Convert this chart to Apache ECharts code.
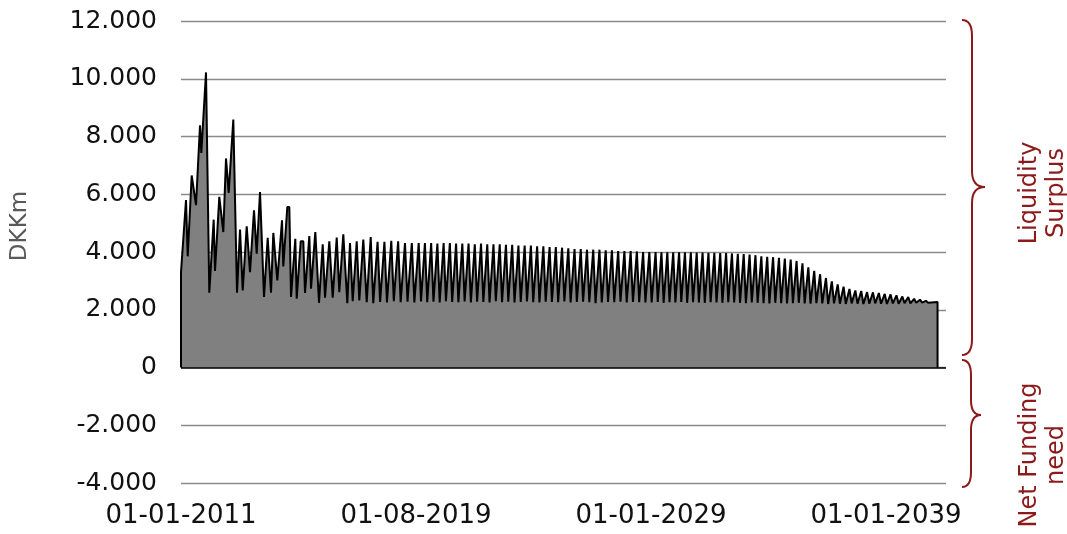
<!DOCTYPE html>
<html>
<head>
<meta charset="utf-8">
<script src="https://cdn.jsdelivr.net/npm/echarts@6/dist/echarts.min.js"></script>
<style>
  html, body { margin: 0; padding: 0; background: #fff; }
  #chart { width: 1067px; height: 534px; }
</style>
</head>
<body>
<div id="chart"></div>
<script>
// X-axis tick labels (one per label interval of 100 axis units)
const tickLabels = ['01-01-2011', '01-08-2019', '01-01-2029', '01-01-2039'];
const yTicks = [-4000, -2000, 0, 2000, 4000, 6000, 8000, 10000, 12000];

// Early, irregular part of the series: positions (axis units) and values (DKKm)
const earlyX = [0, 2.13, 2.85, 4.55, 6.38, 8.09, 8.64, 10.64, 12.04, 13.91, 14.47, 16.30, 18.00, 19.15, 20.30,
  22.26, 23.83, 25.11, 26.26, 27.96, 29.36, 31.06, 32.21, 33.62, 34.47, 35.32, 36.89, 38.30, 39.28, 40.13,
  40.98, 42.98, 43.53, 45.23, 46.09, 46.81, 48.64, 49.23, 50.94, 52.04, 52.77, 54.60, 55.32, 57.15, 58.72,
  60.30, 61.28, 63.11, 64.55, 66.26, 67.36, 69.06, 70.77, 71.91, 73.06, 74.77, 75.87, 77.57, 79.02, 80.72];
const earlyY = [3300, 5800, 3850, 6650, 5620, 8390, 7430, 10220, 2590, 5120, 3340, 5910, 4690, 7240, 6050,
  8590, 2590, 4780, 2670, 4890, 3300, 5440, 3940, 6080, 6080, 2440, 4490, 2590, 4660, 4660,
  3020, 5100, 3500, 5560, 5560, 2440, 4460, 2380, 4370, 4370, 2580, 4550, 2730, 4690, 2240,
  4270, 2420, 4370, 2420, 4500, 2610, 4610, 2230, 4310, 2300, 4370, 2320, 4430, 2260, 4520];

// Regular quarterly cycles: peak and preceding trough values (DKKm)
const peaks = [
  4350, 4350, 4390, 4370, 4310, 4310,
  4310, 4310, 4310, 4290, 4310, 4310, 4290, 4290, 4290, 4270,
  4290, 4270, 4270, 4270, 4250, 4250, 4220, 4220, 4220, 4200,
  4200, 4170, 4170, 4150, 4130, 4100, 4100, 4080, 4080, 4080,
  4060, 4060, 4030, 4030, 4030, 4020, 4000, 4000,
  4000, 3990, 3990, 3990, 3990, 3990, 3990, 3980, 3980, 3970,
  3970, 3960, 3960, 3950, 3940, 3930, 3910, 3890, 3850, 3830,
  3820, 3800, 3770, 3740, 3690, 3610, 3470, 3350, 3230, 3100,
  2980, 2880, 2800, 2720, 2670, 2650, 2610, 2600, 2580, 2550,
  2530, 2500, 2460, 2440, 2380, 2350, 2310];
const troughs = [
  2230, 2270, 2250, 2300, 2260, 2280,
  2250, 2290, 2260, 2280, 2250, 2300, 2270, 2260, 2290, 2250,
  2280, 2270, 2250, 2300, 2260, 2280, 2250, 2270, 2290, 2260,
  2250, 2280, 2270, 2260, 2290, 2250, 2270, 2280, 2260, 2230,
  2250, 2270, 2260, 2280, 2250, 2270, 2260, 2250,
  2250, 2270, 2240, 2260, 2250, 2270, 2240, 2260, 2250, 2240,
  2260, 2250, 2240, 2260, 2250, 2240, 2230, 2250, 2240, 2230,
  2220, 2240, 2230, 2220, 2230, 2240, 2220, 2210, 2230, 2220,
  2200, 2220, 2210, 2200, 2220, 2210, 2200, 2210, 2220, 2210,
  2200, 2220, 2210, 2230, 2220, 2240, 2250];
// Cycles per label interval and first regular peak position
const cyclesPerInterval = [34.3, 37.7, 40, 40];
const firstPeakX = 83.64;

// Final flat stretch after the last cycle
const tailX = [317.9, 318.5, 321.9];
const tailY = [2240, 2265, 2265];

// ---- build series data ----
const pts = [[0, 0]];
earlyX.forEach((x, i) => pts.push([x, earlyY[i]]));
let px = firstPeakX;
let step = 100 / cyclesPerInterval[0];
for (let k = 0; k < peaks.length; k++) {
  pts.push([px - 0.63 * step, troughs[k]]);
  pts.push([px, peaks[k]]);
  step = 100 / cyclesPerInterval[Math.floor(px / 100)];
  px += step;
}
tailX.forEach((x, i) => pts.push([x, tailY[i]]));
pts.push([tailX[tailX.length - 1], 0]);

function fmtThousands(v) {
  const s = Math.abs(v).toString().replace(/\B(?=(\d{3})+(?!\d))/g, '.');
  return (v < 0 ? '-' : '') + s;
}

const FONT = '"DejaVu Sans", Verdana, sans-serif';
const RED = '#8c1a1a';

// Curly brace decoration built from lines and quadratic curves
function brace(xOut, xIn, xTip, yTop, yMid, yBot, r) {
  const st = { stroke: RED, lineWidth: 2, fill: null };
  return [
    { type: 'bezierCurve', shape: { x1: xOut, y1: yTop, cpx1: xIn, cpy1: yTop, x2: xIn, y2: yTop + r }, style: st },
    { type: 'line', shape: { x1: xIn, y1: yTop + r, x2: xIn, y2: yMid - r }, style: st },
    { type: 'bezierCurve', shape: { x1: xIn, y1: yMid - r, cpx1: xIn, cpy1: yMid, x2: xTip, y2: yMid }, style: st },
    { type: 'bezierCurve', shape: { x1: xTip, y1: yMid, cpx1: xIn, cpy1: yMid, x2: xIn, y2: yMid + r }, style: st },
    { type: 'line', shape: { x1: xIn, y1: yMid + r, x2: xIn, y2: yBot - r }, style: st },
    { type: 'bezierCurve', shape: { x1: xIn, y1: yBot - r, cpx1: xIn, cpy1: yBot, x2: xOut, y2: yBot }, style: st }
  ];
}

const chart = echarts.init(document.getElementById('chart'), null, { renderer: 'canvas' });
chart.setOption({
  animation: false,
  backgroundColor: '#fff',
  grid: { left: 181, right: 121, top: 21, bottom: 51, outerBoundsMode: 'none' },
  xAxis: {
    type: 'value',
    min: 0,
    max: 325.5,
    interval: 100,
    axisLine: { show: false, onZero: false },
    axisTick: { show: false },
    splitLine: { show: false },
    axisLabel: {
      show: true,
      margin: 20,
      color: '#111',
      fontSize: 26,
      fontFamily: FONT,
      showMaxLabel: false,
      formatter: function (v) {
        const i = v / 100;
        return Number.isInteger(i) && tickLabels[i] ? tickLabels[i] : '';
      }
    }
  },
  yAxis: {
    type: 'value',
    min: yTicks[0],
    max: yTicks[yTicks.length - 1],
    interval: 2000,
    axisLine: { show: false },
    axisTick: { show: false },
    splitLine: { show: true, lineStyle: { color: '#8a8a8a', width: 1.3 } },
    axisLabel: {
      margin: 24,
      color: '#111',
      fontSize: 25,
      fontFamily: FONT,
      formatter: fmtThousands
    }
  },
  series: [{
    type: 'line',
    data: pts,
    symbol: 'none',
    smooth: false,
    lineStyle: { color: '#000', width: 2 },
    areaStyle: { color: '#808080', opacity: 1 },
    markLine: {
      silent: true,
      symbol: 'none',
      label: { show: false },
      lineStyle: { color: '#000', width: 1.5, type: 'solid' },
      data: [{ yAxis: 0 }]
    }
  }],
  graphic: [
    {
      type: 'text', x: 20, y: 226, rotation: Math.PI / 2,
      style: { text: 'DKKm', fill: '#595959', font: '23px ' + FONT, textAlign: 'center', textVerticalAlign: 'middle' }
    },
    ...brace(962, 972, 985, 20, 187, 355, 16),
    ...brace(962, 971, 981, 360, 415, 487, 15),
    {
      type: 'text', x: 1043, y: 193, rotation: Math.PI / 2,
      style: { text: 'Liquidity\nSurplus', fill: RED, font: '24px ' + FONT, textAlign: 'center', textVerticalAlign: 'middle', lineHeight: 27 }
    },
    {
      type: 'text', x: 1043, y: 455, rotation: Math.PI / 2,
      style: { text: 'Net Funding\nneed', fill: RED, font: '24px ' + FONT, textAlign: 'center', textVerticalAlign: 'middle', lineHeight: 27 }
    }
  ]
});
</script>
</body>
</html>
